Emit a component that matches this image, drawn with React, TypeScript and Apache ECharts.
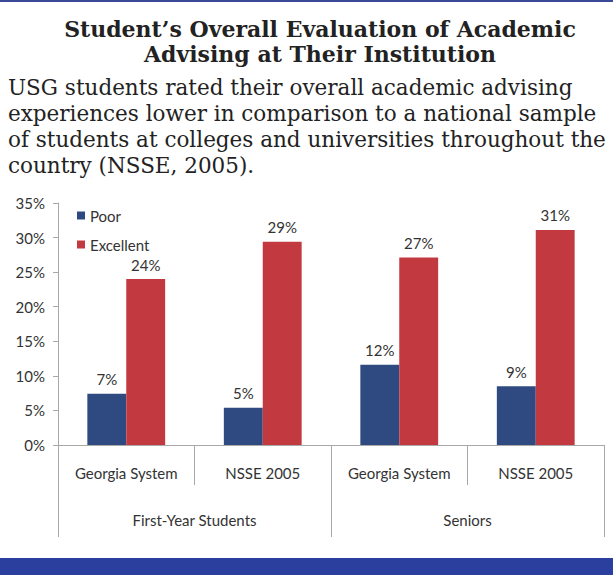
import React, { useEffect, useRef } from "react";
import * as echarts from "echarts";

const subCategories = ["Georgia System", "NSSE 2005", "Georgia System", "NSSE 2005"];
const groupCategories = ["First-Year Students", "Seniors"];
const poorValues = [7.4, 5.4, 11.6, 8.5];
const excellentValues = [24, 29.4, 27.1, 31.1];
const seriesNames = ["Poor", "Excellent"];
const titleLines = ["Student\u2019s Overall Evaluation of Academic", "Advising at Their Institution"];
const paragraphLines = [
  "USG students rated their overall academic advising",
  "experiences lower in comparison to a national sample",
  "of students at colleges and universities throughout the",
  "country (NSSE, 2005).",
];

const SANS = "Lato, 'Open Sans', sans-serif";
const SERIF = "'DejaVu Serif', serif";
const FS = 15;

export default function App() {
  const ref = useRef<HTMLDivElement>(null);
  useEffect(() => {
    if (!ref.current) return;
    const chart = echarts.init(ref.current, undefined, { renderer: "svg" });
    const labelCfg = {
      show: true,
      position: "top",
      distance: 7,
      color: "#333",
      fontSize: FS,
      fontFamily: SANS,
      formatter: (p: any) => Math.round(p.value) + "%",
    };
    chart.setOption({
      animation: false,
      backgroundColor: "#fff",
      graphic: [
        { type: "rect", shape: { x: 0, y: 0, width: 613, height: 2 }, style: { fill: "#3a4899" } },
        { type: "rect", shape: { x: 0, y: 558, width: 613, height: 17 }, style: { fill: "#2b3f9e" } },
        ...titleLines.map((t, i) => ({
          type: "text",
          x: 320,
          y: 29 + i * 25,
          style: {
            text: t,
            fontFamily: SERIF,
            fontWeight: "bold",
            fontSize: 22,
            fill: "#222",
            textAlign: "center",
            textVerticalAlign: "middle",
          },
        })),
        ...paragraphLines.map((t, i) => ({
          type: "text",
          x: 8,
          y: 87 + i * 26,
          style: {
            text: t,
            fontFamily: SERIF,
            fontSize: 21.5,
            fill: "#222",
            textAlign: "left",
            textVerticalAlign: "middle",
          },
        })),
      ],
      legend: {
        orient: "vertical",
        left: 72,
        top: 203,
        itemWidth: 8,
        itemHeight: 8,
        itemGap: 14,
        icon: "rect",
        data: seriesNames,
        textStyle: { color: "#333", fontSize: FS, fontFamily: SANS },
      },
      grid: { left: 58, right: 9, top: 203, bottom: 130, containLabel: false },
      xAxis: [
        {
          type: "category",
          data: subCategories,
          position: "bottom",
          axisLine: { show: true, lineStyle: { color: "#a8a8a8" } },
          axisTick: { show: true, length: 40, lineStyle: { color: "#a8a8a8" } },
          axisLabel: { margin: 20, color: "#333", fontSize: FS, fontFamily: SANS, interval: 0 },
        },
        {
          type: "category",
          data: groupCategories,
          position: "bottom",
          axisLine: { show: false },
          axisTick: { show: true, length: 92, lineStyle: { color: "#a8a8a8" } },
          axisLabel: { margin: 67, color: "#333", fontSize: FS, fontFamily: SANS, interval: 0 },
        },
      ],
      yAxis: {
        type: "value",
        min: 0,
        max: 35,
        interval: 5,
        axisLine: { show: true, lineStyle: { color: "#a8a8a8" } },
        axisTick: { show: true, length: 5, lineStyle: { color: "#a8a8a8" } },
        splitLine: { show: false },
        axisLabel: { formatter: "{value}%", color: "#333", fontSize: FS, fontFamily: SANS, margin: 13 },
      },
      series: [
        {
          name: seriesNames[0],
          type: "bar",
          xAxisIndex: 0,
          data: poorValues,
          barWidth: "28.5%",
          barGap: "0%",
          itemStyle: { color: "#2f4a80" },
          label: labelCfg,
        },
        {
          name: seriesNames[1],
          type: "bar",
          xAxisIndex: 0,
          data: excellentValues,
          barWidth: "28.5%",
          barGap: "0%",
          itemStyle: { color: "#c23a40" },
          label: labelCfg,
        },
      ],
    });
    return () => chart.dispose();
  }, []);
  return (
    <div
      ref={ref}
      style={{ position: "fixed", left: 0, top: 0, width: 613, height: 575 }}
    />
  );
}
